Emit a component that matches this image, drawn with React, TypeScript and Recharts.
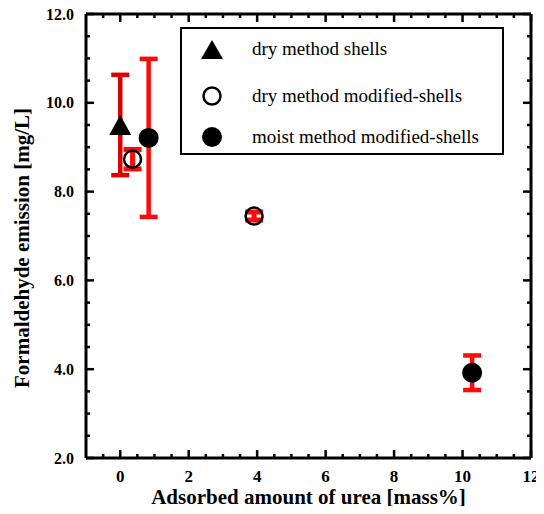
import React from "react";
import { ScatterChart, Scatter, XAxis, YAxis, ErrorBar } from "recharts";

// values
const seriesNames = ["dry method shells", "dry method modified-shells", "moist method modified-shells"];

const dryShellsX = [0];
const dryShellsY = [9.5];
const dryShellsErr = [1.13];

const dryModX = [0.36, 3.91];
const dryModY = [8.73, 7.45];
const dryModErr = [0.22, 0.09];

const moistX = [0.83, 10.28];
const moistY = [9.21, 3.92];
const moistErr = [1.78, 0.39];

const xTicks = [-0.5, 0, 0.5, 1, 1.5, 2, 2.5, 3, 3.5, 4, 4.5, 5, 5.5, 6, 6.5, 7, 7.5, 8, 8.5, 9, 9.5, 10, 10.5, 11, 11.5, 12];
const yTicks = [2, 2.5, 3, 3.5, 4, 4.5, 5, 5.5, 6, 6.5, 7, 7.5, 8, 8.5, 9, 9.5, 10, 10.5, 11, 11.5, 12];

const toPoints = (xs: number[], ys: number[], errs: number[]) =>
  xs.map((x, i) => ({ x, y: ys[i], err: errs[i] }));

const dryShells = toPoints(dryShellsX, dryShellsY, dryShellsErr);
const dryMod = toPoints(dryModX, dryModY, dryModErr);
const moist = toPoints(moistX, moistY, moistErr);

const FONT = '"Liberation Serif", "Times New Roman", serif';
const RED = "#ff0a0a";
const DARK_RED = "#dd0000";

const Triangle = ({ cx, cy }: any) => (
  <path d={`M${cx},${cy - 10} L${cx + 11},${cy + 10} L${cx - 11},${cy + 10} Z`} fill="#000" />
);
// no fill, so the red error bar stays visible inside the ring like in the original
const OpenCircle = ({ cx, cy }: any) => (
  <circle cx={cx} cy={cy} r={8.5} fill="none" stroke="#000" strokeWidth={2.5} />
);
const FilledCircle = ({ cx, cy }: any) => <circle cx={cx} cy={cy} r={10} fill="#000" />;
const Nothing = () => <g />;

const isMajor = (v: number) => v % 2 === 0;

const BottomTick = ({ x, y, payload }: any) => (
  <g>
    <line x1={x} x2={x} y1={y} y2={y - (isMajor(payload.value) ? 8 : 4)} stroke="#000" strokeWidth={2.5} />
    {isMajor(payload.value) && (
      <text x={x} y={y + 24} textAnchor="middle" fontFamily={FONT} fontWeight="bold" fontSize={17} fill="#000">
        {payload.value}
      </text>
    )}
  </g>
);
const TopTick = ({ x, y, payload }: any) => (
  <line x1={x} x2={x} y1={y} y2={y + (isMajor(payload.value) ? 8 : 4)} stroke="#000" strokeWidth={2.5} />
);
const LeftTick = ({ x, y, payload }: any) => (
  <g>
    <line x1={x} x2={x + (isMajor(payload.value) ? 8 : 4)} y1={y} y2={y} stroke="#000" strokeWidth={2.5} />
    {isMajor(payload.value) && (
      <text x={x - 12} y={y + 5.5} textAnchor="end" fontFamily={FONT} fontWeight="bold" fontSize={16} fill="#000">
        {payload.value.toFixed(1)}
      </text>
    )}
  </g>
);
const RightTick = ({ x, y, payload }: any) => (
  <line x1={x} x2={x - (isMajor(payload.value) ? 8 : 4)} y1={y} y2={y} stroke="#000" strokeWidth={2.5} />
);

const titleStyle = { fontFamily: FONT, fontWeight: "bold" as const, fontSize: 21, fill: "#000" };

const XTitle = ({ viewBox }: any) => (
  <text x={viewBox.x + viewBox.width / 2} y={viewBox.y + 46} textAnchor="middle" style={titleStyle}>
    Adsorbed amount of urea [mass%]
  </text>
);
const YTitle = ({ viewBox }: any) => (
  <text
    transform={`translate(29, ${viewBox.y + viewBox.height / 2 + 12}) rotate(-90)`}
    textAnchor="middle"
    style={titleStyle}
  >
    Formaldehyde emission [mg/L]
  </text>
);

const legendMarkers = [
  <svg width={26} height={24} key="t"><path d="M13,3 L24,22 L2,22 Z" fill="#000" /></svg>,
  <svg width={26} height={24} key="o"><circle cx={13} cy={12} r={8.5} fill="#fff" stroke="#000" strokeWidth={2.5} /></svg>,
  <svg width={26} height={24} key="f"><circle cx={13} cy={12} r={10} fill="#000" /></svg>,
];
const legendTops = [8, 55, 96];

const axisStyle = { stroke: "#000", strokeWidth: 3 };

export default function App() {
  return (
    <div style={{ position: "relative", margin: -8, width: 544, height: 514, overflow: "hidden" }}>
      <ScatterChart width={544} height={514} margin={{ top: 13, right: 12, left: 0, bottom: 0 }}>
        <XAxis
          xAxisId="b"
          type="number"
          dataKey="x"
          domain={[-1, 12]}
          ticks={xTicks}
          interval={0}
          height={56}
          tickSize={0}
          tickMargin={0}
          tickLine={false}
          axisLine={axisStyle}
          tick={<BottomTick />}
          label={<XTitle />}
        />
        <XAxis
          xAxisId="t"
          orientation="top"
          type="number"
          dataKey="x"
          domain={[-1, 12]}
          ticks={xTicks}
          interval={0}
          height={1}
          tickSize={0}
          tickMargin={0}
          tickLine={false}
          axisLine={axisStyle}
          tick={<TopTick />}
        />
        <YAxis
          yAxisId="l"
          type="number"
          dataKey="y"
          domain={[2, 12]}
          ticks={yTicks}
          interval={0}
          width={86}
          tickSize={0}
          tickMargin={0}
          tickLine={false}
          axisLine={axisStyle}
          tick={<LeftTick />}
          label={<YTitle />}
        />
        <YAxis
          yAxisId="r"
          orientation="right"
          type="number"
          dataKey="y"
          domain={[2, 12]}
          ticks={yTicks}
          interval={0}
          width={1}
          tickSize={0}
          tickMargin={0}
          tickLine={false}
          axisLine={axisStyle}
          tick={<RightTick />}
        />

        {/* invisible series so the top and right frame axes have something bound to them */}
        <Scatter xAxisId="t" yAxisId="r" data={dryShells} shape={Nothing} isAnimationActive={false} />

        <Scatter xAxisId="b" yAxisId="l" data={dryShells} shape={Nothing} isAnimationActive={false}>
          <ErrorBar dataKey="err" direction="y" width={9} strokeWidth={4.5} stroke={DARK_RED} isAnimationActive={false} />
        </Scatter>
        <Scatter xAxisId="b" yAxisId="l" data={moist} shape={Nothing} isAnimationActive={false}>
          <ErrorBar dataKey="err" direction="y" width={9} strokeWidth={4.5} stroke={RED} isAnimationActive={false} />
        </Scatter>
        <Scatter xAxisId="b" yAxisId="l" data={dryMod} shape={Nothing} isAnimationActive={false}>
          <ErrorBar dataKey="err" direction="y" width={9} strokeWidth={5} stroke={RED} isAnimationActive={false} />
        </Scatter>
        <Scatter xAxisId="b" yAxisId="l" name={seriesNames[0]} data={dryShells} shape={<Triangle />} isAnimationActive={false} />
        <Scatter xAxisId="b" yAxisId="l" name={seriesNames[1]} data={dryMod} shape={<OpenCircle />} isAnimationActive={false} />
        <Scatter xAxisId="b" yAxisId="l" name={seriesNames[2]} data={moist} shape={<FilledCircle />} isAnimationActive={false} />
      </ScatterChart>

      <div
        style={{
          position: "absolute",
          left: 180,
          top: 27,
          width: 324,
          height: 128,
          boxSizing: "border-box",
          border: "2px solid #000",
          background: "#fff",
          fontFamily: FONT,
          fontSize: 19,
          color: "#000",
        }}
      >
        {seriesNames.map((name, i) => (
          <div key={name} style={{ position: "absolute", left: 17, top: legendTops[i], display: "flex", alignItems: "center" }}>
            {legendMarkers[i]}
            <span style={{ marginLeft: 27, whiteSpace: "nowrap" }}>{name}</span>
          </div>
        ))}
      </div>
    </div>
  );
}
